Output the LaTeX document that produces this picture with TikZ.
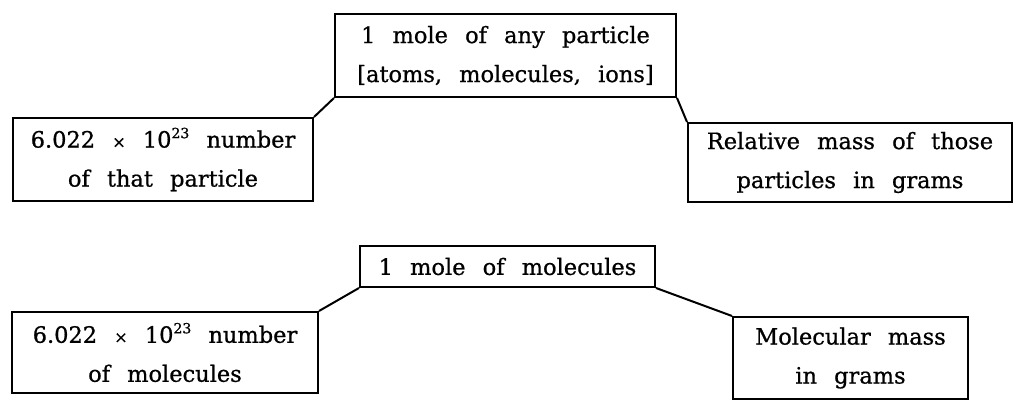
\documentclass[tikz,border=0pt]{standalone}
\usepackage{fontspec}
\setmainfont{DejaVu Serif}[WordSpace=2.4,FakeBold=0.8]
\newcommand{\pw}[1]{\raisebox{0.42em}{\fontsize{14}{14}\selectfont #1}}
\begin{document}
\begin{tikzpicture}[x=1pt,y=-1pt,
  box/.style={draw=black,line width=2pt,align=center,inner sep=0pt,
    font=\fontsize{22.5}{39}\selectfont},
  link/.style={draw=black,line width=2pt}]
\useasboundingbox (0,0) rectangle (1024,412);
\node[box,minimum width=341pt,minimum height=83pt] (top) at (505.5,55.5)
  {1 mole of any particle\\{}[atoms, molecules, ions]};
\node[box,minimum width=300pt,minimum height=83pt] (l1) at (163,159.5)
  {6.022 {\fontsize{16}{16}\selectfont×} 10\pw{23} number\\of that particle};
\node[box,minimum width=324pt,minimum height=79pt] (r1) at (850,162.5)
  {Relative mass of those\\particles in grams};
\node[box,minimum width=295pt,minimum height=41pt] (mid) at (507.5,266.5)
  {1 mole of molecules};
\node[box,minimum width=306pt,minimum height=81pt] (l2) at (165,352.5)
  {6.022 {\fontsize{16}{16}\selectfont×} 10\pw{23} number\\of molecules};
\node[box,minimum width=235pt,minimum height=82pt] (r2) at (850.5,358)
  {Molecular mass\\in grams};
\draw[link] (top.south west) -- (l1.north east);
\draw[link] (top.south east) -- (r1.north west);
\draw[link] (mid.south west) -- (l2.north east);
\draw[link] (mid.south east) -- (r2.north west);
\end{tikzpicture}
\end{document}
